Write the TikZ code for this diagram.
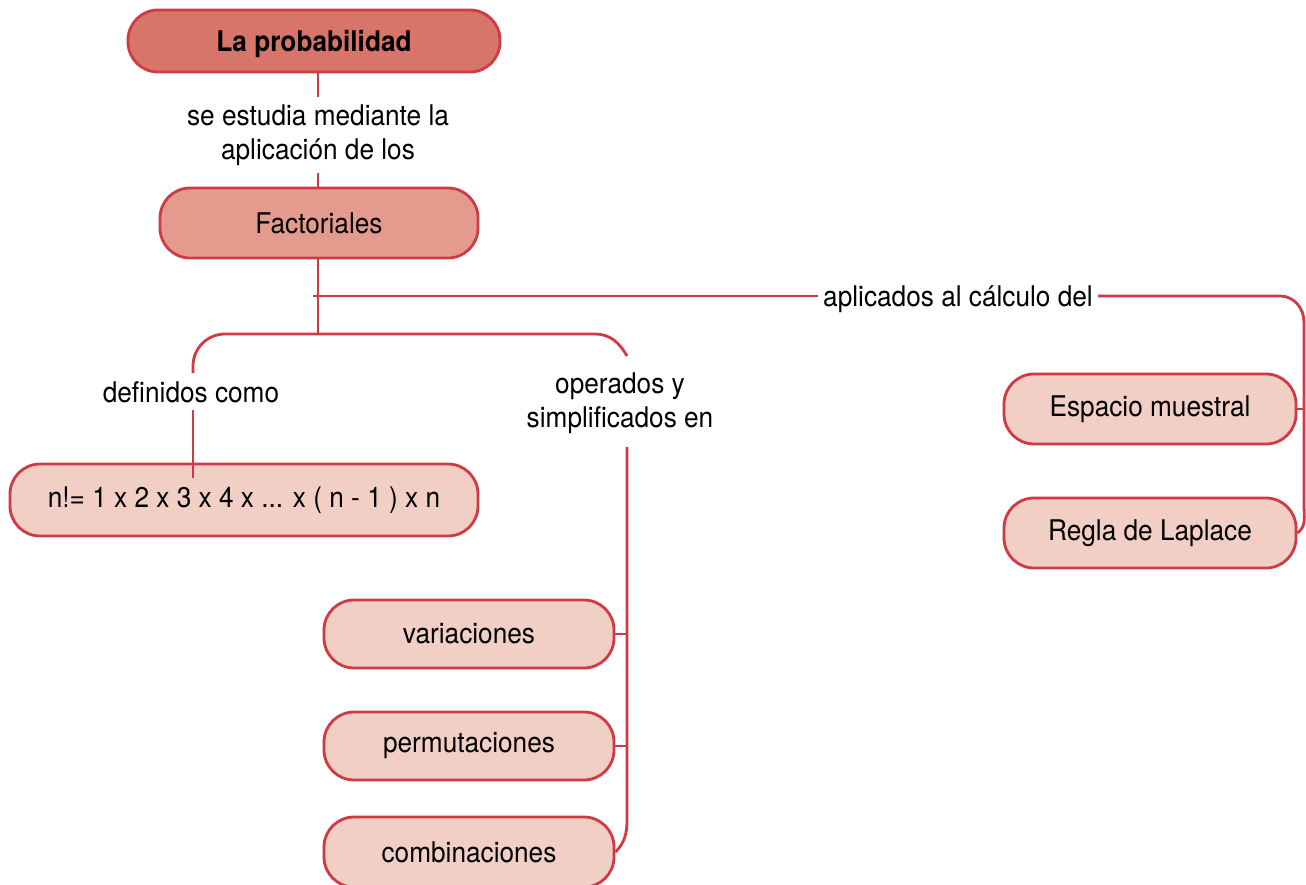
\documentclass[tikz,border=0pt]{standalone}
\usepackage{fontspec}
\setmainfont{TeX Gyre Heros}[FakeStretch=0.92]
\definecolor{edgered}{HTML}{CF3A44}
\definecolor{filltop}{HTML}{D8756A}
\definecolor{fillmid}{HTML}{E39B8D}
\definecolor{filllight}{HTML}{F1CFC5}
\begin{document}
\begin{tikzpicture}[x=1pt,y=-1pt,
  box/.style={draw=edgered, line width=2.8pt, rectangle, rounded corners=30pt, inner sep=0pt, font=\fontsize{28.5}{34}\selectfont},
  topbox/.style={box, fill=filltop, font=\fontsize{28.5}{34}\selectfont\bfseries, text height=27pt, text depth=6pt},
  midbox/.style={box, fill=fillmid},
  lightbox/.style={box, fill=filllight},
  lab/.style={align=center, inner sep=0pt, font=\fontsize{28.5}{34}\selectfont},
  conn/.style={draw=edgered, line width=2.8pt}]
\useasboundingbox (0,0) rectangle (1306,884);
% nodes
\node[topbox, minimum width=372pt, minimum height=62pt] (top) at (314,41) {La probabilidad};
\node[midbox, minimum width=318pt, minimum height=70pt] (fact) at (319,223) {Factoriales};
\node[lightbox, minimum width=468pt, minimum height=72pt] (nfact) at (244,500) {n!= 1 x 2 x 3 x 4 x ... x ( n - 1 ) x n};
\node[lightbox, minimum width=290pt, minimum height=68pt] (var) at (469,634) {variaciones};
\node[lightbox, minimum width=290pt, minimum height=68pt] (perm) at (469,746) {permutaciones};
\node[lightbox, minimum width=290pt, minimum height=70pt] (comb) at (469,852) {combinaciones};
\node[lightbox, minimum width=292pt, minimum height=70pt] (esp) at (1150,409) {Espacio muestral};
\node[lightbox, minimum width=292pt, minimum height=70pt] (regla) at (1150,533) {Regla de Laplace};
% labels
\node[lab, minimum height=76pt] (l1) at (318,135) {se estudia mediante la\\aplicación de los};
\node[lab, inner xsep=5pt, anchor=base] (l2) at (958,306) {aplicados al cálculo del};
\node[lab, minimum height=38pt] (l3) at (191,392) {definidos como};
\node[lab, minimum height=92pt] (l4) at (620,403) {operados y\\simplificados en};
% coordinates
\coordinate (hstart) at (313,296);
\coordinate (split) at (318,334);
\coordinate (rtop) at (1304,322);
\coordinate (rbot) at (1304,505);
\coordinate (vbot) at (627,820);
% connectors
\draw[conn] (top.south -| l1.north) -- (l1.north);
\draw[conn] (l1.south) -- (fact.north -| l1.south);
\draw[conn] (fact.south -| split) -- (split);
\draw[conn] (hstart) -- (hstart -| l2.west);
\draw[conn] (hstart -| l2.east) -- (1280,296) to[out=0,in=90] (rtop) -- (rbot) to[out=-90,in=35] (regla.east);
\draw[conn] (esp.east) -- (esp.east -| rtop);
\draw[conn, rounded corners=32pt] (split) -| (193,373);
\draw[conn] (split) -- (595,334) to[out=0,in=120] (627,356);
\draw[conn] (193,410) -- (193,478);
\draw[conn] (627,447) -- (vbot) to[out=-90,in=45] (comb.east);
\draw[conn] (var.east) -- (var.east -| vbot);
\draw[conn] (perm.east) -- (perm.east -| vbot);
\end{tikzpicture}
\end{document}
